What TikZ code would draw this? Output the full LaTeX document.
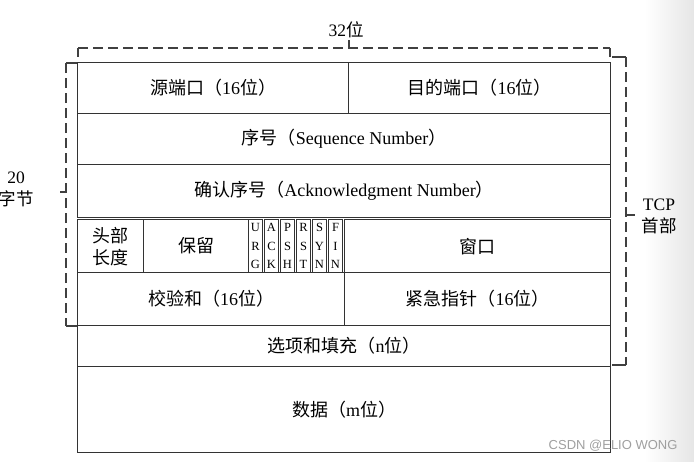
\documentclass[tikz,border=0pt]{standalone}
\usepackage{fontspec}
\setmainfont{Liberation Serif}
\newfontfamily\zhfont{Noto Sans CJK SC}
\newfontfamily\wmfont{Liberation Sans}
\newcommand{\zh}[1]{{\zhfont #1}}
\usetikzlibrary{positioning}
\tikzset{
  cell/.style={draw=black!80,line width=1.3pt,anchor=north west,inner sep=0pt,
    align=center,font=\fontsize{18}{22}\selectfont},
  flagcell/.style={cell,minimum width=14pt,minimum height=53pt,line width=1pt,
    font=\fontsize{12.5}{18.5}\selectfont},
  brk/.style={draw=black!75,line width=1.2pt,dash pattern=on 10pt off 5pt},
  tick/.style={draw=black!75,line width=1.2pt},
  side/.style={align=center,font=\fontsize{17.5}{22}\selectfont}
}

\begin{document}
\begin{tikzpicture}[x=1pt,y=-1pt]
  \useasboundingbox (0,0) rectangle (694,461);
  \shade[left color=white,right color=gray!20] (645,0) rectangle (694,461);
  % rows of the header
  \node[cell,minimum width=271pt,minimum height=51pt] (src) at (77,62) {\zh{源端口（}16\zh{位）}};
  \node[cell,minimum width=262pt,minimum height=51pt] (dst) at (348,62) {\zh{目的端口（}16\zh{位）}};
  \node[cell,minimum width=533pt,minimum height=51pt] (seq) at (77,113) {\zh{序号（}Sequence Number\zh{）}};
  \node[cell,minimum width=533pt,minimum height=53pt] (ack) at (77,164) {\zh{确认序号（}Acknowledgment Number\zh{）}};
  \node[cell,minimum width=66pt,minimum height=53pt] (hlen) at (77,219) {\zh{头部}\\\zh{长度}};
  \node[cell,minimum width=105pt,minimum height=53pt] (rsv) at (143,219) {\zh{保留}};
  \foreach \a/\b/\c/\x in {U/R/G/248,A/C/K/264,P/S/H/280,R/S/T/296,S/Y/N/312,F/I/N/328}
    \node[flagcell] (flag\x) at (\x,219) {\a\\\b\\\c};
  \node[cell,minimum width=266pt,minimum height=53pt] (win) at (344,219) {\zh{窗口}};
  \node[cell,minimum width=267pt,minimum height=53pt] (chk) at (77,272) {\zh{校验和（}16\zh{位）}};
  \node[cell,minimum width=266pt,minimum height=53pt] (urgp) at (344,272) {\zh{紧急指针（}16\zh{位）}};
  \node[cell,minimum width=533pt,minimum height=41pt] (opt) at (77,325) {\zh{选项和填充（}n\zh{位）}};
  \node[cell,minimum width=533pt,minimum height=86pt] (data) at (77,366) {\zh{数据（}m\zh{位）}};
  % 32 bit bracket
  \draw[brk] (78,48) -- (610,48);
  \draw[tick] (78,48) -- (78,57);
  \draw[tick] (610,48) -- (610,57);
  \draw[tick] (349,40) -- (349,48);
  \node[side] (bits) at (346,30) {32\zh{位}};
  % 20 byte bracket
  \draw[tick] (66,63) -- (77,63);
  \draw[brk] (66,63) -- (66,326);
  \draw[tick] (66,326) -- (77,326);
  \draw[tick] (60,192) -- (66,192);
  \node[side] (bytes) at (16,189) {20\\\zh{字节}};
  % header bracket
  \draw[tick] (612,57) -- (626,57);
  \draw[brk] (626,57) -- (626,365);
  \draw[tick] (612,365) -- (626,365);
  \draw[tick] (627,215) -- (635,215);
  \node[side] (hdr) at (659,216) {TCP\\\zh{首部}};
  \node[anchor=east,text=gray!75,font=\wmfont\fontsize{13}{15}\selectfont] (wm) at (681,446) {CSDN @ELIO WONG};
\end{tikzpicture}
\end{document}
